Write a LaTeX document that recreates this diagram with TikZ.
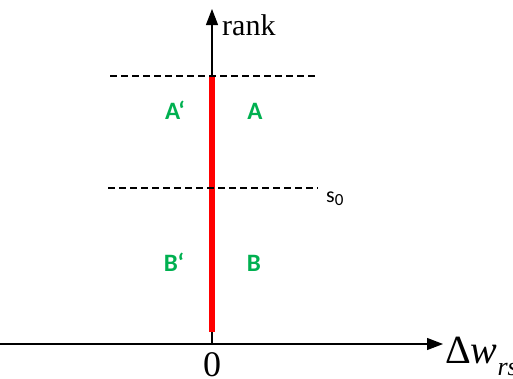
\documentclass[tikz,border=0pt]{standalone}
\usepackage{fontspec}
\setmainfont{Liberation Serif}
\newfontfamily\calib{Carlito}
\usetikzlibrary{arrows.meta}
\definecolor{lblgreen}{RGB}{0,176,80}
\definecolor{barred}{RGB}{255,0,0}
\begin{document}
\begin{tikzpicture}[x=1pt,y=-1pt,
  axisline/.style={line width=1.2pt,-{Triangle[length=16pt,width=12pt]}},
  level/.style={line width=1.2pt,dash pattern=on 7pt off 4pt},
  region/.style={text=lblgreen,font=\calib\bfseries\fontsize{25}{25}\selectfont,inner sep=0pt,anchor=base},
  axislabel/.style={inner sep=0pt}]
\useasboundingbox (0,0) rectangle (513,378);
% coordinates
\coordinate (xstart) at (0,344);
\coordinate (xend) at (443,344);
\coordinate (ybot) at (212,344);
\coordinate (ytop) at (212,9);
\coordinate (rtop) at (212,76);
\coordinate (rbot) at (212,332);
\coordinate (d1l) at (110,76);
\coordinate (d1r) at (317,76);
\coordinate (d2l) at (108,188);
\coordinate (d2r) at (318,188);
% axes
\draw[axisline] (xstart) -- (xend);
\draw[axisline] (ybot) -- (ytop);
% red bar
\draw[barred,line width=6pt] (rtop) -- (rbot);
% dashed levels
\draw[level] (d1l) -- (d1r);
\draw[level] (d2l) -- (d2r);
% labels
\node[axislabel,anchor=base west,font=\fontsize{30}{30}\selectfont] (rank) at (222,35) {rank};
\node[axislabel,anchor=base,font=\fontsize{36}{36}\selectfont] (zero) at (212,376) {0};
\node[axislabel,anchor=base west] (dw) at (445,363) {\fontsize{40}{40}\selectfont Δ\textit{w}\raisebox{-12pt}{\fontsize{26}{26}\selectfont\textit{rs}}};
\node[axislabel,anchor=base west,font=\calib\fontsize{22}{22}\selectfont] (s0) at (326,202) {s\raisebox{-3pt}{\fontsize{17}{17}\selectfont 0}};
\node[region] (Ap) at (175,119) {A‘};
\node[region] (A) at (255,119) {A};
\node[region] (Bp) at (174,271) {B‘};
\node[region] (B) at (254,271) {B};
\end{tikzpicture}
\end{document}
